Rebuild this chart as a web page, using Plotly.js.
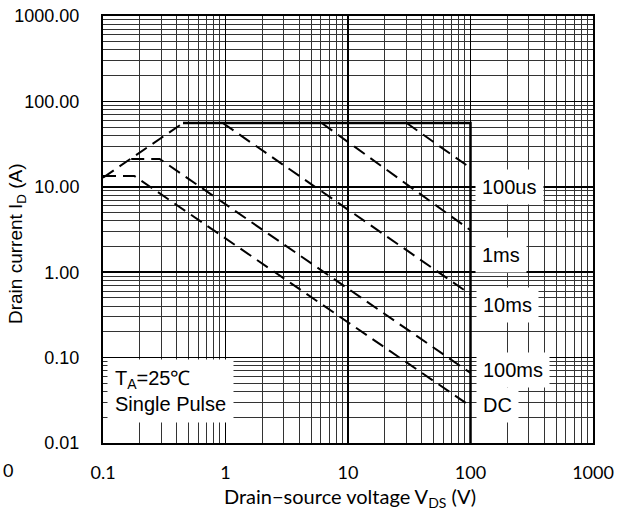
<!DOCTYPE html>
<html>
<head>
<meta charset="utf-8">
<script src="https://cdn.plot.ly/plotly-3.0.1.min.js"></script>
<style>html,body{margin:0;padding:0;background:#fff;}#chart{width:623px;height:513px;}</style>
</head>
<body>
<div id="chart"></div>
<script>
// ---- data (VDS in V, ID in A) ----
const rdsonV = [0.1, 0.45];
const rdsonI = [12.8, 55.8];
const limitV = [0.45, 100, 100];
const limitI = [55.8, 55.8, 0.01];
const us100V = [30.1, 100];
const us100I = [55.8, 16.6];
const ms1V = [6.1, 100];
const ms1I = [55.8, 3.1];
const ms10V = [0.95, 100];
const ms10I = [55.8, 0.55];
const ms100V = [0.17, 0.29, 100];
const ms100I = [21.2, 21.2, 0.066];
const dcV = [0.1, 0.18, 100];
const dcI = [13.4, 13.4, 0.027];

const curveLabels = ["100us", "1ms", "10ms", "100ms", "DC"];
const xTickVals = [0.1, 1, 10, 100, 1000];
const xTickText = ["0.1", "1", "10", "100", "1000"];
const yTickVals = [0.01, 0.1, 1, 10, 100, 1000];
const yTickText = ["0.01", "0.10", "1.00", "10.00", "100.00", "1000.00"];

function minorVals(decades) {
  const out = [];
  decades.forEach(d => { for (let k = 2; k <= 9; k++) out.push(k * d); });
  return out;
}
const xMinor = minorVals([0.1, 1, 10, 100]);
const yMinor = minorVals([0.01, 0.1, 1, 10, 100]);

const dashLine = {color: '#000', width: 2, dash: '13px,7px'};
function tr(x, y, line) {
  return {x: x, y: y, type: 'scatter', mode: 'lines', line: line, hoverinfo: 'skip', showlegend: false};
}
const data = [
  tr(rdsonV, rdsonI, dashLine),
  tr(limitV, limitI, {color: '#000', width: 2.5}),
  tr(us100V, us100I, dashLine),
  tr(ms1V, ms1I, dashLine),
  tr(ms10V, ms10I, dashLine),
  tr(ms100V, ms100I, dashLine),
  tr(dcV, dcI, dashLine)
];

// plot area in px: left 103, right 593, top 16, bottom 443
const L = 103, R = 593, T = 16, B = 443;
function px(xp) { return (xp - L) / (R - L); }
function py(yp) { return (B - yp) / (B - T); }

const labelPos = [[475, 187], [475, 255], [476, 305], [476, 370], [476, 405]];
const annotations = curveLabels.map((t, i) => ({
  text: t, xref: 'paper', yref: 'paper', x: px(labelPos[i][0]), y: py(labelPos[i][1]),
  xanchor: 'left', yanchor: 'middle', showarrow: false, bgcolor: '#fff', borderpad: 6,
  font: {family: 'Liberation Sans', size: 20, color: '#000'}
}));
annotations.push({
  text: 'T<sub>A</sub>=25\u2103<br>Single Pulse', xref: 'paper', yref: 'paper',
  x: px(107), y: py(391), xanchor: 'left', yanchor: 'middle', align: 'left', showarrow: false,
  bgcolor: '#fff', borderpad: 7,
  font: {family: 'Liberation Sans', size: 20, color: '#000'}
});
annotations.push({
  text: 'Drain current I<sub>D</sub> (A)', xref: 'paper', yref: 'paper',
  x: px(17), y: py(244), textangle: -90, showarrow: false, xanchor: 'center', yanchor: 'middle',
  font: {family: 'Liberation Sans', size: 19, color: '#000'}
});
annotations.push({
  text: 'Drain\u2212source voltage V<sub>DS</sub> (V)', xref: 'paper', yref: 'paper',
  x: px(350), y: py(498), showarrow: false, xanchor: 'center', yanchor: 'middle',
  font: {family: 'Lato', size: 20, color: '#000'}
});
annotations.push({
  text: '0', xref: 'paper', yref: 'paper', x: px(1), y: py(470), showarrow: false,
  xanchor: 'left', yanchor: 'middle',
  font: {family: 'Lato', size: 18, color: '#000'}
});

const layout = {
  width: 623, height: 513,
  margin: {l: L, r: 623 - R, t: T, b: 513 - B, pad: 0},
  paper_bgcolor: '#fff', plot_bgcolor: '#fff',
  showlegend: false,
  xaxis: {
    type: 'log', range: [-1, 3], tickmode: 'array', tickvals: xTickVals, ticktext: xTickText,
    ticks: 'outside', ticklen: 12, tickcolor: 'rgba(0,0,0,0)',
    tickfont: {family: 'Lato', size: 18, color: '#000'},
    showgrid: true, gridcolor: '#000', gridwidth: 1.5,
    minor: {tickmode: 'array', tickvals: xMinor, showgrid: true, gridcolor: '#333', gridwidth: 1, ticks: ''},
    showline: true, mirror: true, linecolor: '#000', linewidth: 2, zeroline: false
  },
  yaxis: {
    type: 'log', range: [-2, 3], tickmode: 'array', tickvals: yTickVals, ticktext: yTickText,
    ticks: 'outside', ticklen: 18, tickcolor: 'rgba(0,0,0,0)',
    tickfont: {family: 'Liberation Sans', size: 18, color: '#000'},
    showgrid: true, gridcolor: '#000', gridwidth: 1.5,
    minor: {tickmode: 'array', tickvals: yMinor, showgrid: true, gridcolor: '#333', gridwidth: 1, ticks: ''},
    showline: true, mirror: true, linecolor: '#000', linewidth: 2, zeroline: false
  },
  annotations: annotations
};
Plotly.newPlot('chart', data, layout, {staticPlot: true, displayModeBar: false});
</script>
</body>
</html>
